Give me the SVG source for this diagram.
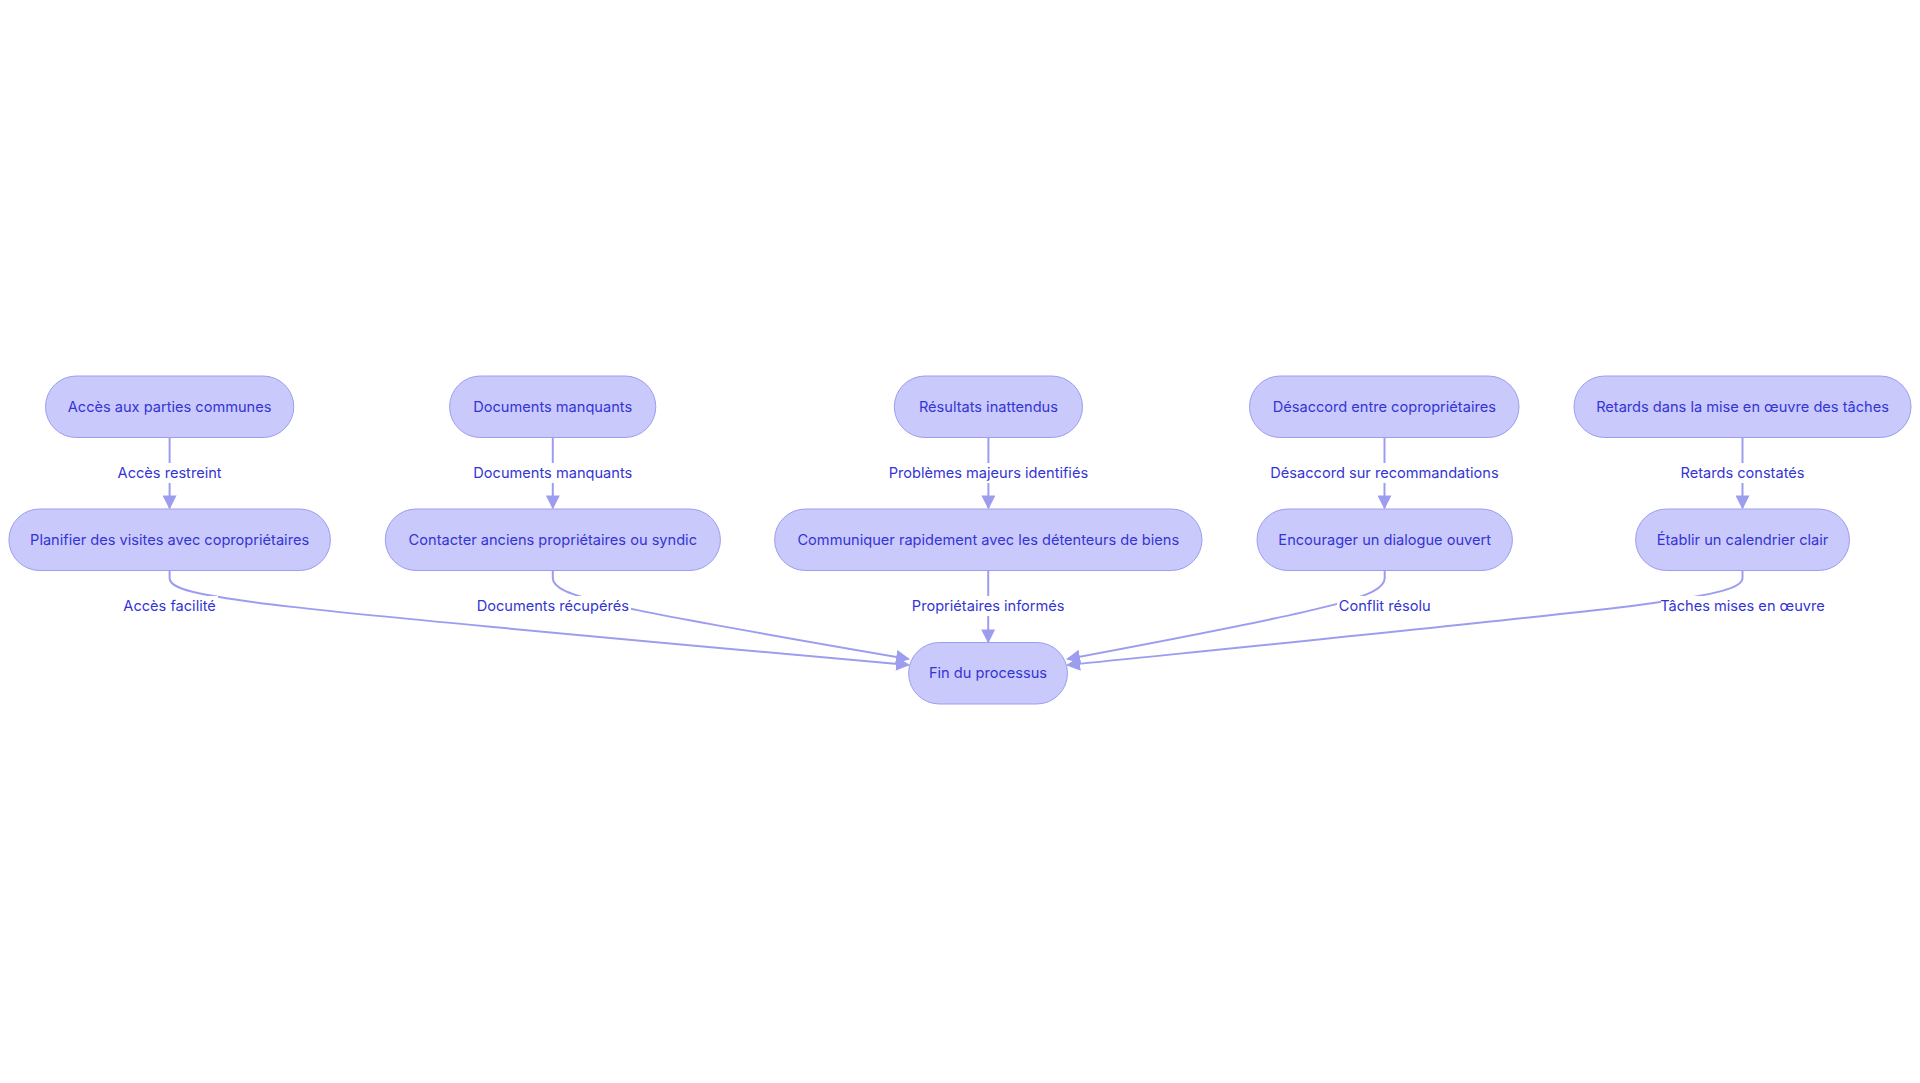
<svg xmlns="http://www.w3.org/2000/svg" width="1920" height="1083" viewBox="0 0 1920 1083">
<style>
.node rect{fill:#c9c9fb;stroke:#9d9df0;stroke-width:1}
.node text{font-family:Inter,"Noto Sans",sans-serif;font-size:14.6px;fill:#3434d4;text-anchor:middle;dominant-baseline:central}
.edge{fill:none;stroke:#9d9df0;stroke-width:2}
.lbl rect{fill:#ffffff}
.lbl text{font-family:Inter,"Noto Sans",sans-serif;font-size:14.6px;fill:#3434d4;text-anchor:middle;dominant-baseline:central}
</style>
<defs>
<marker id="arr" viewBox="0 0 10 10" refX="9" refY="5" markerWidth="14" markerHeight="14" markerUnits="userSpaceOnUse" orient="auto">
<path d="M0,0 L10,5 L0,10 z" fill="#9d9df0"/>
</marker>
</defs>
<rect width="1920" height="1083" fill="#ffffff"/>
<g id="connectors">
<path class="edge" d="M169.6,437.5 L169.6,508" marker-end="url(#arr)"/>
<path class="edge" d="M552.8,437.5 L552.8,508" marker-end="url(#arr)"/>
<path class="edge" d="M988.4,437.5 L988.4,508" marker-end="url(#arr)"/>
<path class="edge" d="M1384.5,437.5 L1384.5,508" marker-end="url(#arr)"/>
<path class="edge" d="M1742.5,437.5 L1742.5,508" marker-end="url(#arr)"/>
<path class="edge" d="M169.6,570.5 L169.6,578 C169.6,598 250,606 908.6,665" marker-end="url(#arr)"/>
<path class="edge" d="M552.8,570.5 L552.8,578 C552.8,596 600,606 908.6,659" marker-end="url(#arr)"/>
<path class="edge" d="M988.2,570.5 L988.2,642" marker-end="url(#arr)"/>
<path class="edge" d="M1384.7,570.5 L1384.7,578 C1384.7,596 1340,608 1067.5,659" marker-end="url(#arr)"/>
<path class="edge" d="M1742.5,570.5 L1742.5,578 C1742.5,598 1650,606 1067.5,665" marker-end="url(#arr)"/>
<g class="lbl">
<rect x="115" y="463" width="109" height="20"/><text x="169.6" y="472.7">Accès restreint</text>
<rect x="468" y="463" width="170" height="20"/><text x="552.8" y="472.7">Documents manquants</text>
<rect x="886" y="463" width="205" height="20"/><text x="988.4" y="472.7">Problèmes majeurs identifiés</text>
<rect x="1268" y="463" width="233" height="20"/><text x="1384.5" y="472.7">Désaccord sur recommandations</text>
<rect x="1676" y="463" width="133" height="20"/><text x="1742.5" y="472.7">Retards constatés</text>
<rect x="121" y="596" width="97" height="20"/><text x="169.6" y="606">Accès facilité</text>
<rect x="475" y="596" width="156" height="20"/><text x="552.8" y="606">Documents récupérés</text>
<rect x="911" y="596" width="155" height="20"/><text x="988.2" y="606">Propriétaires informés</text>
<rect x="1337" y="596" width="95" height="20"/><text x="1384.7" y="606">Conflit résolu</text>
<rect x="1661" y="596" width="163" height="20"/><text x="1742.5" y="606">Tâches mises en œuvre</text>
</g>
</g>
<g id="n1" class="node"><rect x="45.5" y="376" width="248.3" height="61.5" rx="30.75"/><text x="169.6" y="406.8">Accès aux parties communes</text></g>
<g id="n2" class="node"><rect x="8.9" y="509" width="321.5" height="61.5" rx="30.75"/><text x="169.6" y="539.8">Planifier des visites avec copropriétaires</text></g>
<g id="n3" class="node"><rect x="449.6" y="376" width="206.2" height="61.5" rx="30.75"/><text x="552.7" y="406.8">Documents manquants</text></g>
<g id="n4" class="node"><rect x="385.3" y="509" width="335.1" height="61.5" rx="30.75"/><text x="552.8" y="539.8">Contacter anciens propriétaires ou syndic</text></g>
<g id="n5" class="node"><rect x="894.3" y="376" width="188.2" height="61.5" rx="30.75"/><text x="988.4" y="406.8">Résultats inattendus</text></g>
<g id="n6" class="node"><rect x="774.6" y="509" width="427.4" height="61.5" rx="30.75"/><text x="988.3" y="539.8">Communiquer rapidement avec les détenteurs de biens</text></g>
<g id="n7" class="node"><rect x="908.6" y="642.5" width="158.9" height="61.5" rx="30.75"/><text x="988" y="673.3">Fin du processus</text></g>
<g id="n8" class="node"><rect x="1249.5" y="376" width="269.5" height="61.5" rx="30.75"/><text x="1384.3" y="406.8">Désaccord entre copropriétaires</text></g>
<g id="n9" class="node"><rect x="1257" y="509" width="255.4" height="61.5" rx="30.75"/><text x="1384.7" y="539.8">Encourager un dialogue ouvert</text></g>
<g id="n10" class="node"><rect x="1574" y="376" width="337" height="61.5" rx="30.75"/><text x="1742.5" y="406.8">Retards dans la mise en œuvre des tâches</text></g>
<g id="n11" class="node"><rect x="1635.6" y="509" width="213.9" height="61.5" rx="30.75"/><text x="1742.5" y="539.8">Établir un calendrier clair</text></g>
</svg>
